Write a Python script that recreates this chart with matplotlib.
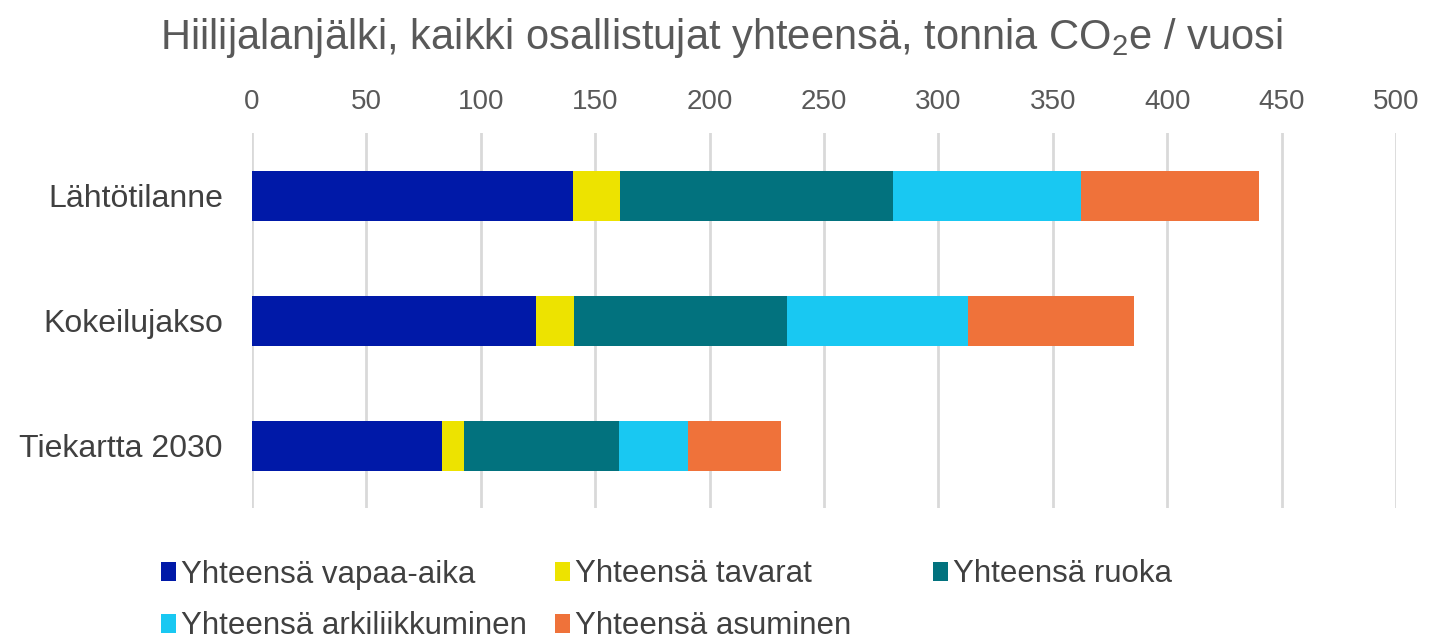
import numpy as np
import matplotlib.pyplot as plt
from matplotlib.patches import Patch

plt.rcParams['font.family'] = ['Liberation Sans', 'DejaVu Sans']
plt.rcParams['mathtext.fontset'] = 'custom'
plt.rcParams['mathtext.rm'] = 'Liberation Sans'
plt.rcParams['mathtext.it'] = 'Liberation Sans'

categories = ['Lähtötilanne', 'Kokeilujakso', 'Tiekartta 2030']
vapaa_aika = [140.1, 124.1, 82.9]
tavarat = [20.6, 16.6, 9.9]
ruoka = [119.5, 93.3, 67.7]
arkiliikkuminen = [82.0, 78.8, 30.2]
asuminen = [77.8, 72.7, 40.4]

series = [
    ('Yhteensä vapaa-aika', vapaa_aika, '#0019a8'),
    ('Yhteensä tavarat', tavarat, '#ede300'),
    ('Yhteensä ruoka', ruoka, '#02727e'),
    ('Yhteensä arkiliikkuminen', arkiliikkuminen, '#19c8f2'),
    ('Yhteensä asuminen', asuminen, '#ef723a'),
]
grey = '#595959'

fig = plt.figure(figsize=(14.43, 6.41), dpi=100)
ax = fig.add_axes([252 / 1443, 1 - 508 / 641, (1396 - 252) / 1443, 375 / 641])

y = np.arange(len(categories))
left = np.zeros(len(categories))
handles = []
for name, vals, col in series:
    ax.barh(y, vals, left=left, height=0.4, color=col, zorder=3)
    left += np.array(vals)
    handles.append(Patch(facecolor=col, label=name))

ax.set_xlim(0, 500)
ax.set_ylim(2.5, -0.5)
ax.set_xticks(np.arange(0, 501, 50))
ax.xaxis.tick_top()
ax.set_yticks(y)
ax.set_yticklabels(categories)
ax.tick_params(axis='x', length=0, labelsize=20, labelcolor=grey, pad=13)
ax.tick_params(axis='y', length=0, labelsize=23, labelcolor='#404040', pad=21)
ax.grid(axis='x', color='#d9d9d9', linewidth=2, zorder=0)
for s in ax.spines.values():
    s.set_visible(False)

fig.text(0.5, 0.94, 'Hiilijalanjälki, kaikki osallistujat yhteensä, tonnia CO$_2$e / vuosi',
         ha='center', va='center', fontsize=30, color=grey)

# legend, three columns placed like in the original
cols = [(148, [0, 3]), (542, [1, 4]), (920, [2])]
for x0, idx in cols:
    fig.legend(handles=[handles[i] for i in idx], loc='upper left',
               bbox_to_anchor=(x0 / 1443, 1 - 547 / 641), frameon=False,
               fontsize=22.5, labelcolor='#404040', handlelength=0.5, handleheight=0.55,
               handletextpad=0.15, labelspacing=0.7, borderaxespad=0)

fig.savefig('out.png', dpi=100)
